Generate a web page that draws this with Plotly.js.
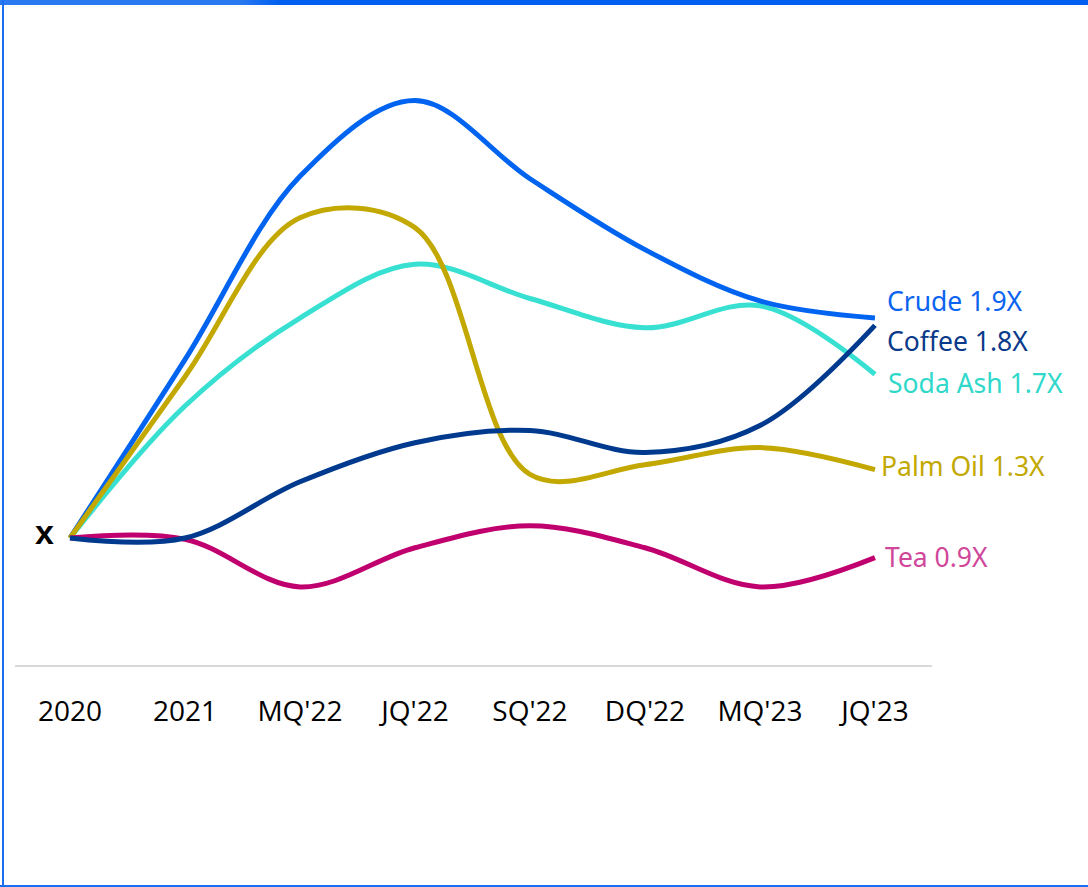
<!DOCTYPE html>
<html>
<head>
<meta charset="utf-8">
<script src="https://cdn.plot.ly/plotly-3.0.1.min.js"></script>
<style>
  html, body { margin: 0; padding: 0; background: #ffffff; }
  #wrap { position: relative; width: 1088px; height: 887px; overflow: hidden; }
  #chart { position: absolute; left: 0; top: 0; width: 1088px; height: 887px; }
  .bar-top { position: absolute; left: 0; top: 0; width: 1088px; height: 5px; background: #005ff0; }
  .bar-top-light { position: absolute; left: 0; top: 0; width: 280px; height: 5px; background: linear-gradient(to right, #2b79f0 85%, #005ff0); }
  .bar-left { position: absolute; left: 2px; top: 0; width: 2px; height: 887px; background: #1a6ef0; }
  .bar-bottom { position: absolute; left: 0; bottom: 0; width: 1088px; height: 2px; background: #1a6ef0; }
</style>
</head>
<body>
<div id="wrap">
  <div id="chart"></div>
  <div class="bar-top"></div>
  <div class="bar-top-light"></div>
  <div class="bar-left"></div>
  <div class="bar-bottom"></div>
</div>
<script>
// Categories (x axis)
const categories = ["2020", "2021", "MQ'22", "JQ'22", "SQ'22", "DQ'22", "MQ'23", "JQ'23"];

// Series values (multiple of 2020 level)
const crude   = [1.00, 1.73, 2.48, 2.79, 2.47, 2.18, 1.97, 1.90];
const coffee  = [1.00, 1.00, 1.23, 1.39, 1.44, 1.35, 1.46, 1.87];
const sodaAsh = [1.00, 1.54, 1.90, 2.12, 1.98, 1.86, 1.95, 1.67];
const palmOil = [1.00, 1.66, 2.31, 2.27, 1.26, 1.30, 1.37, 1.28];
const tea     = [1.00, 0.995, 0.80, 0.96, 1.05, 0.96, 0.80, 0.92];

// End labels
const seriesNames = ["Crude", "Coffee", "Soda Ash", "Palm Oil", "Tea"];
const endLabels = ["Crude 1.9X", "Coffee 1.8X", "Soda Ash 1.7X", "Palm Oil 1.3X", "Tea 0.9X"];
const baseLabel = "x";

const lineColors = {
  "Crude": "#0064f0",
  "Coffee": "#003a8e",
  "Soda Ash": "#38e0d2",
  "Palm Oil": "#c2a800",
  "Tea": "#c0006e"
};
const labelColors = {
  "Crude": "#0a64f0",
  "Coffee": "#0a3a8a",
  "Soda Ash": "#2fd8ca",
  "Palm Oil": "#c2a800",
  "Tea": "#d0479a"
};
const seriesData = {
  "Crude": crude, "Coffee": coffee, "Soda Ash": sodaAsh, "Palm Oil": palmOil, "Tea": tea
};
// drawing order (bottom to top)
const drawOrder = ["Soda Ash", "Crude", "Palm Oil", "Tea", "Coffee"];

const traces = drawOrder.map(name => ({
  type: "scatter",
  mode: "lines",
  name: name,
  x: categories,
  y: seriesData[name],
  line: { color: lineColors[name], width: 5, shape: "spline", smoothing: 1.0 },
  hoverinfo: "skip"
}));

// label pixel offsets relative to line end (styling only)
const labelShift = { "Crude": 17, "Coffee": -16, "Soda Ash": -9, "Palm Oil": 4, "Tea": 1 };
const labelXShift = { "Crude": 10, "Coffee": 10, "Soda Ash": 11, "Palm Oil": 4, "Tea": 8 };

const annotations = seriesNames.map((name, i) => ({
  x: categories.length - 1,
  y: seriesData[name][seriesData[name].length - 1],
  xref: "x", yref: "y",
  text: endLabels[i],
  showarrow: false,
  xanchor: "left",
  yanchor: "middle",
  xshift: labelXShift[name],
  yshift: labelShift[name],
  font: { family: "Noto Sans, Open Sans, sans-serif", size: 26.5, color: labelColors[name] }
}));
annotations.push({
  x: 0, y: crude[0], xref: "x", yref: "y",
  text: "<b>" + baseLabel + "</b>",
  showarrow: false, xanchor: "right", yanchor: "middle",
  xshift: -14, yshift: 6,
  font: { family: "Liberation Sans, Arial, sans-serif", size: 34, color: "#000000" }
});

const layout = {
  width: 1088,
  height: 887,
  margin: { l: 15, r: 156, t: 20, b: 222 },
  paper_bgcolor: "#ffffff",
  plot_bgcolor: "#ffffff",
  showlegend: false,
  xaxis: {
    type: "category",
    range: [-0.478, 7.496],
    showgrid: false,
    zeroline: false,
    showline: true,
    linecolor: "#d9d9d9",
    linewidth: 2,
    ticks: "",
    ticklabelstandoff: 20,
    tickfont: { family: "Open Sans, sans-serif", size: 28, color: "#000000" },
    fixedrange: true
  },
  yaxis: {
    range: [0.4804, 3.1195],
    showgrid: false,
    zeroline: false,
    showline: false,
    showticklabels: false,
    ticks: "",
    fixedrange: true
  },
  annotations: annotations
};

Plotly.newPlot("chart", traces, layout, { displayModeBar: false, staticPlot: true });
</script>
</body>
</html>
